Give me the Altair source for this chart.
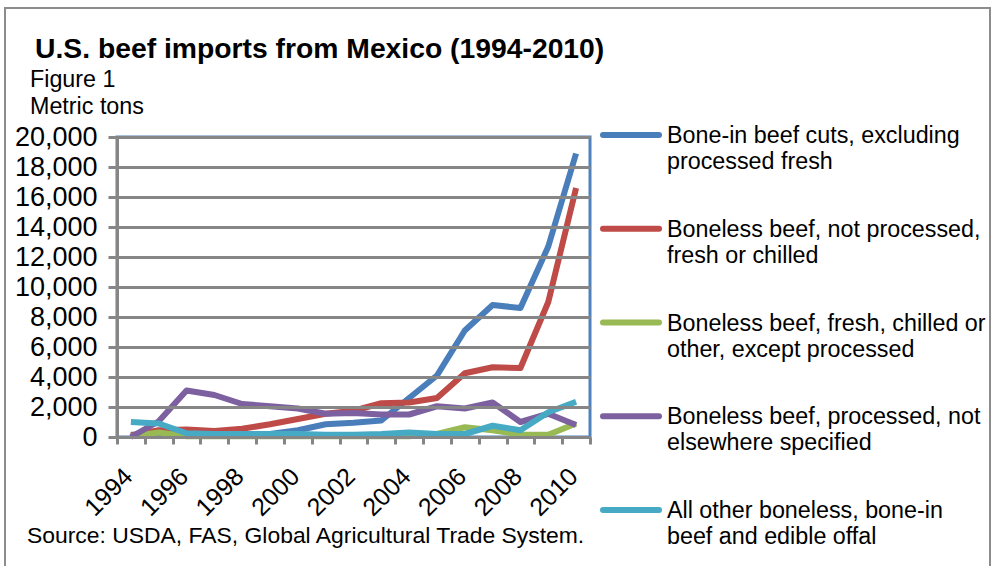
import altair as alt
import pandas as pd

FONT = "Liberation Sans"

years = list(range(1994, 2011))
series_names = [
    "Bone-in beef cuts, excluding processed fresh",
    "Boneless beef, not processed, fresh or chilled",
    "Boneless beef, fresh, chilled or other, except processed",
    "Boneless beef, processed, not elsewhere specified",
    "All other boneless, bone-in beef and edible offal",
]
legend_labels = [
    "Bone-in beef cuts, excluding\nprocessed fresh",
    "Boneless beef, not processed,\nfresh or chilled",
    "Boneless beef, fresh, chilled or\nother, except processed",
    "Boneless beef, processed, not\nelsewhere specified",
    "All other boneless, bone-in\nbeef and edible offal",
]
colors = ["#4A7EBB", "#BE4B48", "#98B954", "#7D60A0", "#46AAC5"]

bone_in = [150, 150, 150, 150, 150, 200, 450, 850, 950, 1100, 2600, 4100, 7100, 8800, 8600, 12700, 18900]
boneless_fresh = [100, 450, 500, 400, 550, 850, 1200, 1550, 1750, 2250, 2300, 2600, 4250, 4650, 4600, 9000, 16600]
boneless_other = [50, 300, 50, 50, 50, 50, 50, 50, 50, 50, 50, 200, 650, 450, 150, 150, 900]
boneless_processed = [0, 1050, 3100, 2800, 2200, 2050, 1900, 1550, 1600, 1500, 1500, 2050, 1900, 2300, 1000, 1550, 800]
all_other = [1000, 900, 250, 200, 200, 200, 200, 150, 150, 200, 300, 200, 200, 750, 450, 1650, 2350]

y_ticks = list(range(0, 20001, 2000))

title_text = "U.S. beef imports from Mexico (1994-2010)"
figure_text = "Figure 1"
unit_text = "Metric tons"
source_text = "Source: USDA, FAS, Global Agricultural Trade System."

all_series = [bone_in, boneless_fresh, boneless_other, boneless_processed, all_other]
rows = []
for name, vals in zip(series_names, all_series):
    for yr, v in zip(years, vals):
        rows.append({"series": name, "year": yr, "value": v})
df = pd.DataFrame(rows)
legend_df = pd.DataFrame({"series": series_names, "label": legend_labels})

GRAY = "#868686"

color_enc = alt.Color("series:N", scale=alt.Scale(domain=series_names, range=colors), legend=None)
x_enc = alt.X(
    "year:O",
    bandPosition=0.5,
    scale=alt.Scale(type="band", paddingInner=0, paddingOuter=0),
    axis=alt.Axis(
        title=None, tickBand="extent", labelAngle=315, labelAlign="right",
        labelBaseline="middle", labelFontSize=25, labelFont=FONT, labelColor="black",
        labelPadding=28, labelOffset=-3, tickSize=7, tickWidth=3, tickColor=GRAY,
        domainColor=GRAY, domainWidth=3, grid=False, labelOverlap=False, labelBound=False,
        labelExpr="datum.value % 2 == 0 ? datum.label : ''", zindex=1,
    ),
)
y_enc = alt.Y(
    "value:Q",
    scale=alt.Scale(domain=[0, 20000], nice=False),
    axis=alt.Axis(
        title=None, values=y_ticks, format=",d", labelFontSize=27, labelFont=FONT,
        labelColor="black", grid=True, gridColor=GRAY, gridWidth=3, tickSize=9,
        tickWidth=3, tickColor=GRAY, domainColor=GRAY, domainWidth=3, labelPadding=11,
        zindex=1,
    ),
)

line_layers = []
for name in series_names:
    line_layers.append(
        alt.Chart(df)
        .transform_filter(alt.datum.series == name)
        .mark_line(strokeWidth=6, strokeJoin="round")
        .encode(x=x_enc, y=y_enc, color=color_enc)
    )
lines = alt.layer(*line_layers)

leg_y = alt.Y("series:N", scale=alt.Scale(type="point", domain=series_names, range=[-2, 373], padding=0), axis=None)
legend_rules = alt.Chart(legend_df).mark_rule(strokeWidth=6, strokeCap="round").encode(
    x=alt.value(486), x2=alt.value(542), y=leg_y, color=color_enc
)
legend_text = alt.Chart(legend_df).mark_text(
    align="left", baseline="alphabetic", dy=8, fontSize=23.3, font=FONT,
    lineBreak="\n", lineHeight=26, color="black"
).encode(x=alt.value(550), y=leg_y, text="label:N")

def label(txt, x, y, size, bold=False):
    return alt.Chart(pd.DataFrame({"t": [txt]})).mark_text(
        align="left", baseline="alphabetic", fontSize=size, font=FONT,
        fontWeight="bold" if bold else "normal", color="black"
    ).encode(x=alt.value(x), y=alt.value(y), text="t:N")

frame = alt.Chart(pd.DataFrame({"t": [0]})).mark_rect(
    fillOpacity=0, stroke="#8C8C8C", strokeWidth=2
).encode(x=alt.value(-112), x2=alt.value(873), y=alt.value(-129), y2=alt.value(440))

chart = alt.layer(
    frame,
    lines,
    legend_rules,
    legend_text,
    label(title_text, -82, -79, 28.3, True),
    label(figure_text, -87, -50, 23.3),
    label(unit_text, -87, -23, 23.3),
    label(source_text, -90, 406, 22.9),
).resolve_scale(y="independent").properties(
    width=473, height=300,
    autosize=alt.AutoSizeParams(type="none"),
    padding={"left": 117, "top": 137, "right": 402, "bottom": 129},
    background="white",
).configure_view(stroke="#4F81BD", strokeWidth=3)

chart.save("out.html", embed_options={"renderer": "svg", "actions": False})
